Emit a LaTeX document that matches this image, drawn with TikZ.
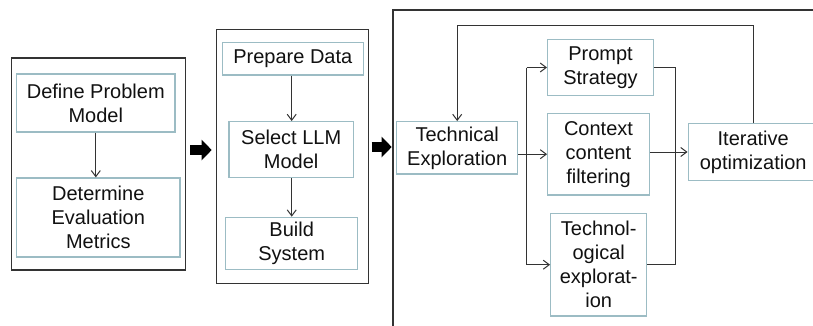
\documentclass[tikz,border=0pt]{standalone}
\usepackage{fontspec}
\setmainfont{Liberation Sans}
\usetikzlibrary{arrows.meta}
\definecolor{boxline}{HTML}{9CBCC4}
\definecolor{darkline}{HTML}{333333}
\definecolor{txt}{HTML}{111111}
\tikzset{
  stage/.style={draw=darkline, line width=1.3pt, rectangle, inner sep=0pt},
  task/.style={draw=boxline, line width=1.3pt, rectangle, inner sep=0pt, align=center,
    text=txt, font=\fontsize{20}{24}\selectfont, fill=white},
  conn/.style={draw=darkline, line width=1pt, -{Straight Barb[length=6pt,width=9pt]}},
  plain/.style={draw=darkline, line width=1pt},
  fat/.style={draw=black, line width=10.7pt, -{Triangle[length=10pt,width=20pt]}}
}
\begin{document}
\begin{tikzpicture}[x=1pt,y=-1pt]
\useasboundingbox (0,0) rectangle (813,325);
\clip (0,0) rectangle (813,325);
\fill[white] (0,0) rectangle (813,325);
% stage boxes
\node[stage, minimum width=174pt, minimum height=212pt] (b1) at (98.7,164) {};
\node[stage, minimum width=151.6pt, minimum height=254pt] (b2) at (292.5,156.3) {};
\node[stage, minimum width=437pt, minimum height=330pt] (b3) at (611.5,175) {};
% stage 1
\node[task, minimum width=158.3pt, minimum height=58pt] (def) at (95.8,103) {Define Problem\\Model};
\node[task, minimum width=163.3pt, minimum height=79pt] (det) at (98.3,217.5) {Determine\\Evaluation\\Metrics};
\draw[conn] (def.south) -- (def.south |- det.north);
% stage 2
\node[task, minimum width=141pt, minimum height=32.3pt] (prep) at (292.8,58.8) {Prepare Data};
\node[task, minimum width=124.3pt, minimum height=56pt] (sel) at (291.2,149.7) {Select LLM\\Model};
\node[task, minimum width=132pt, minimum height=52pt] (build) at (291.7,243.3) {Build\\System};
\coordinate (c2) at (291.7,0);
\draw[conn] (c2 |- prep.south) -- (c2 |- sel.north);
\draw[conn] (c2 |- sel.south) -- (c2 |- build.north);
% fat arrows
\coordinate (f1a) at (190,150);
\coordinate (f1b) at (211.7,150);
\draw[fat] (f1a) -- (f1b);
\coordinate (f2a) at (371.7,147);
\coordinate (f2b) at (391.7,147);
\draw[fat] (f2a) -- (f2b);
% stage 3
\node[task, minimum width=121pt, minimum height=52.3pt] (tech) at (457.2,147.9) {Technical\\Exploration};
\node[task, minimum width=105.6pt, minimum height=56.4pt] (ps) at (600.5,67.5) {Prompt\\Strategy};
\node[task, minimum width=101.6pt, minimum height=81.7pt] (ctx) at (598.5,154.2) {Context\\content\\filtering};
\node[task, minimum width=96pt, minimum height=102.7pt] (te) at (598.7,264.7) {Technol-\\ogical\\explorat-\\ion};
\node[task, minimum width=130pt, minimum height=57.4pt] (it) at (753.2,152) {Iterative\\optimization};
\coordinate (fb) at (0,25);
\coordinate (sx) at (526.7,0);
\coordinate (mx) at (675,0);
\draw[conn] (it.north) |- (tech.north |- fb) -- (tech.north);
\draw[conn] (tech.east |- ctx.west) -- (ctx.west);
\draw[plain] (sx |- ps.west) -- (sx |- te.west);
\draw[conn] (sx |- ps.west) -- (ps.west);
\draw[conn] (sx |- te.west) -- (te.west);
\draw[plain] (ps.east) -| (mx |- te.east) -- (te.east);
\draw[conn] (ctx.east |- it.west) -- (it.west);
\end{tikzpicture}
\end{document}
